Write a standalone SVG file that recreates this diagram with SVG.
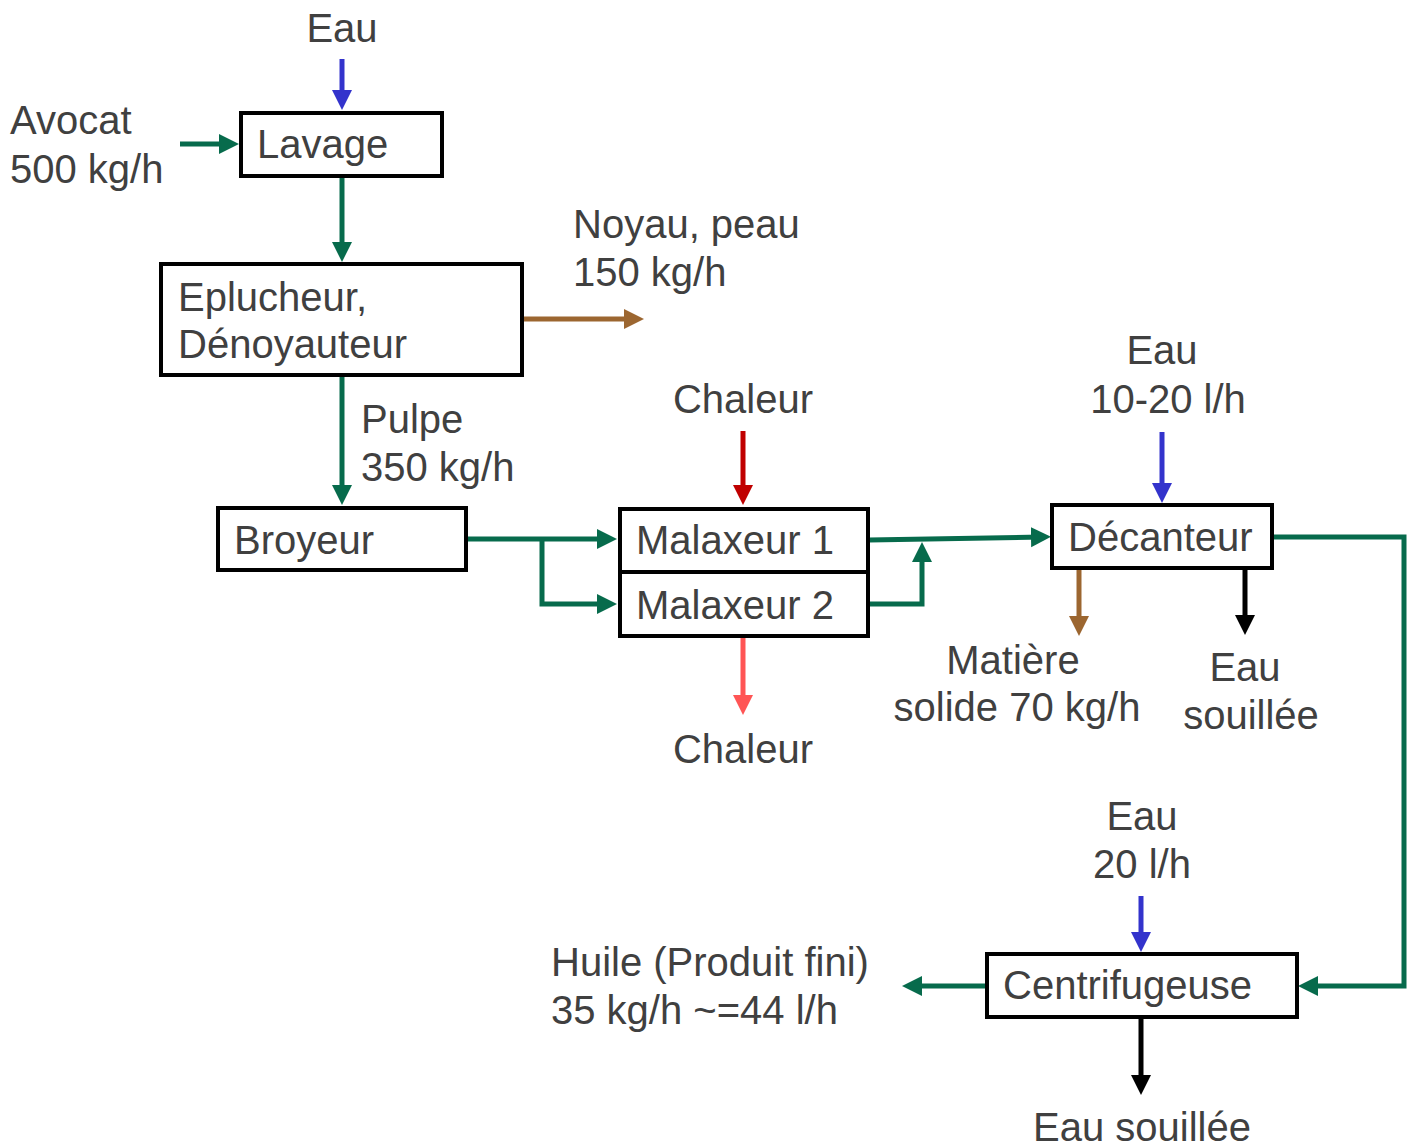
<svg xmlns="http://www.w3.org/2000/svg" width="1413" height="1146" viewBox="0 0 1413 1146">
<style>
text{font-family:"Liberation Sans",Arial,sans-serif;font-size:40px;fill:#404040}
.box{fill:#fff;stroke:#000;stroke-width:4}
.c{stroke-width:5;fill:none;stroke-linejoin:miter;stroke-linecap:butt}
.g{stroke:#076B4C}.b{stroke:#3333CC}.br{stroke:#9C6630}.r{stroke:#C00000}.p{stroke:#FF5555}.k{stroke:#000}
.m{text-anchor:middle}
</style>
<defs>
<marker id="ag" markerUnits="userSpaceOnUse" markerWidth="22" markerHeight="22" refX="11" refY="10" orient="auto"><path d="M0,0 L20,10 L0,20 z" fill="#076B4C"/></marker>
<marker id="ab" markerUnits="userSpaceOnUse" markerWidth="22" markerHeight="22" refX="11" refY="10" orient="auto"><path d="M0,0 L20,10 L0,20 z" fill="#3333CC"/></marker>
<marker id="abr" markerUnits="userSpaceOnUse" markerWidth="22" markerHeight="22" refX="11" refY="10" orient="auto"><path d="M0,0 L20,10 L0,20 z" fill="#9C6630"/></marker>
<marker id="ar" markerUnits="userSpaceOnUse" markerWidth="22" markerHeight="22" refX="11" refY="10" orient="auto"><path d="M0,0 L20,10 L0,20 z" fill="#C00000"/></marker>
<marker id="ap" markerUnits="userSpaceOnUse" markerWidth="22" markerHeight="22" refX="11" refY="10" orient="auto"><path d="M0,0 L20,10 L0,20 z" fill="#FF5555"/></marker>
<marker id="ak" markerUnits="userSpaceOnUse" markerWidth="22" markerHeight="22" refX="11" refY="10" orient="auto"><path d="M0,0 L20,10 L0,20 z" fill="#000"/></marker>
</defs>
<g id="connectors">
<path class="c b" d="M342,59 V101" marker-end="url(#ab)"/>
<path class="c g" d="M180,144 H230" marker-end="url(#ag)"/>
<path class="c g" d="M342,177 V253" marker-end="url(#ag)"/>
<path class="c br" d="M523,319 H635" marker-end="url(#abr)"/>
<path class="c g" d="M342,377 V496" marker-end="url(#ag)"/>
<path class="c g" d="M468,539 H608" marker-end="url(#ag)"/>
<path class="c g" d="M542,539 V604 H608" marker-end="url(#ag)"/>
<path class="c r" d="M743,431 V496" marker-end="url(#ar)"/>
<path class="c p" d="M743,638 V706" marker-end="url(#ap)"/>
<path class="c g" d="M869,540 L1042,537" marker-end="url(#ag)"/>
<path class="c g" d="M869,604 H922 V551" marker-end="url(#ag)"/>
<path class="c b" d="M1162,432 V494" marker-end="url(#ab)"/>
<path class="c br" d="M1079,569 V627" marker-end="url(#abr)"/>
<path class="c k" d="M1245,569 V626" marker-end="url(#ak)"/>
<path class="c g" d="M1274,537 H1404 V986 H1307" marker-end="url(#ag)"/>
<path class="c b" d="M1141,896 V943" marker-end="url(#ab)"/>
<path class="c g" d="M985,986 H911" marker-end="url(#ag)"/>
<path class="c k" d="M1141,1018 V1086" marker-end="url(#ak)"/>
</g>
<g id="lavage"><rect class="box" x="241" y="113" width="201" height="63"/><text x="257" y="158">Lavage</text></g>
<g id="eplucheur"><rect class="box" x="161" y="264" width="361" height="111"/><text x="178" y="311">Eplucheur,</text><text x="178" y="358">Dénoyauteur</text></g>
<g id="broyeur"><rect class="box" x="218" y="508" width="248" height="62"/><text x="234" y="554">Broyeur</text></g>
<g id="malaxeur1"><rect class="box" x="620" y="509" width="248" height="63"/><text x="636" y="554">Malaxeur 1</text></g>
<g id="malaxeur2"><rect class="box" x="620" y="572" width="248" height="64"/><text x="636" y="619">Malaxeur 2</text></g>
<g id="decanteur"><rect class="box" x="1052" y="505" width="220" height="63"/><text x="1068" y="551">Décanteur</text></g>
<g id="centrifugeuse"><rect class="box" x="987" y="954" width="310" height="63"/><text x="1003" y="999">Centrifugeuse</text></g>
<g id="labels">
<text class="m" x="342" y="42">Eau</text>
<text x="10" y="134">Avocat</text>
<text x="10" y="183">500 kg/h</text>
<text x="573" y="238">Noyau, peau</text>
<text x="573" y="286">150 kg/h</text>
<text x="361" y="433">Pulpe</text>
<text x="361" y="481">350 kg/h</text>
<text class="m" x="743" y="413">Chaleur</text>
<text class="m" x="743" y="763">Chaleur</text>
<text class="m" x="1162" y="364">Eau</text>
<text class="m" x="1168" y="413">10-20 l/h</text>
<text class="m" x="1013" y="674">Matière</text>
<text class="m" x="1017" y="721">solide 70 kg/h</text>
<text class="m" x="1245" y="681">Eau</text>
<text class="m" x="1251" y="729">souillée</text>
<text class="m" x="1142" y="830">Eau</text>
<text class="m" x="1142" y="878">20 l/h</text>
<text x="551" y="976">Huile (Produit fini)</text>
<text x="551" y="1024">35 kg/h ~=44 l/h</text>
<text class="m" x="1142" y="1141">Eau souillée</text>
</g>
</svg>
